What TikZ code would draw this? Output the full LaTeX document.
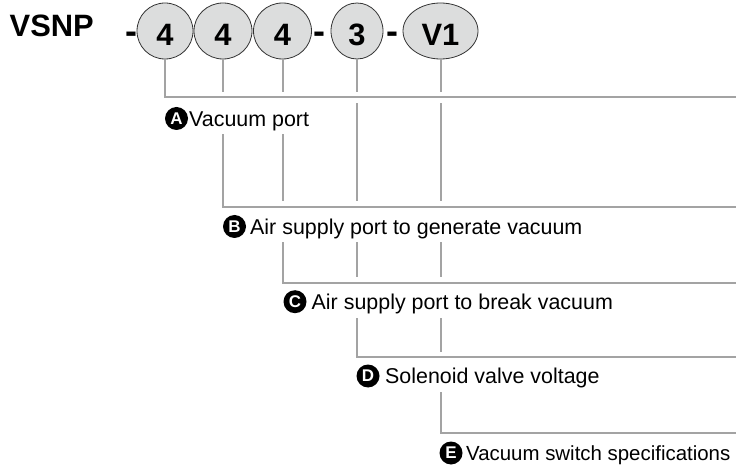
\documentclass[tikz,border=0pt]{standalone}
\usepackage{fontspec}
\setmainfont{Liberation Sans}
\usetikzlibrary{shapes.geometric}
\definecolor{lgrey}{HTML}{DCDDDD}
\definecolor{lline}{HTML}{A3A3A3}
\begin{document}
\begin{tikzpicture}[x=1bp,y=-1bp,
  code/.style={ellipse, draw=black!80, line width=0.8bp, fill=lgrey, inner sep=0pt,
    font=\fontsize{31}{31}\selectfont\bfseries, text height=28.5bp, text depth=0bp},
  conn/.style={draw=lline, line width=2bp},
  halo/.style={draw=white, line width=11bp},
  badge/.style={circle, fill=black, inner sep=0pt, minimum size=23bp, text=white,
    font=\fontsize{17}{17}\selectfont\bfseries},
  desc/.style={anchor=west, fill=white, inner xsep=1bp, inner ysep=0pt,
    text height=15.5bp, text depth=0bp, minimum height=32bp,
    font=\fontsize{21.5}{21.5}\selectfont},
  dashsym/.style={anchor=base, inner sep=0pt, font=\fontsize{36}{36}\selectfont\bfseries}
]
\useasboundingbox (0,0) rectangle (736,469);

% part number
\node[anchor=west, inner sep=0pt, font=\fontsize{31}{31}\selectfont\bfseries,
  text height=22bp, text depth=0bp] (vsnp) at (9.5,26) {VSNP};
\node[dashsym] (d1) at (131,43.5) {-};
\node[code, minimum width=56bp, minimum height=56bp] (c1) at (165,31) {4};
\node[code, minimum width=58bp, minimum height=56bp] (c2) at (223,31) {4};
\node[code, minimum width=58bp, minimum height=56bp] (c3) at (282.5,31) {4};
\node[dashsym] (d2) at (319,43.5) {-};
\node[code, minimum width=52bp, minimum height=56bp] (c4) at (357,31) {3};
\node[dashsym] (d3) at (392,43.5) {-};
\node[code, minimum width=75bp, minimum height=56bp] (c5) at (440.5,31) {V1};

% right ends of the horizontal lines
\coordinate (eA) at (737,97.5);
\coordinate (eB) at (737,207);
\coordinate (eC) at (737,283);
\coordinate (eD) at (737,357);
\coordinate (eE) at (737,433);

% connectors (drawn from right to left so the white halos cut the later crossings)
\draw[halo] ([xshift=1.5bp]c5.south |- eE) -- (eE);
\draw[conn] (c5.south) |- (eE);
\draw[halo] ([xshift=1.5bp]c4.south |- eD) -- (eD);
\draw[conn] (c4.south) |- (eD);
\draw[halo] ([xshift=1.5bp]c3.south |- eC) -- (eC);
\draw[conn] (c3.south) |- (eC);
\draw[halo] ([xshift=1.5bp]c2.south |- eB) -- (eB);
\draw[conn] (c2.south) |- (eB);
\draw[halo] ([xshift=1.5bp]c1.south |- eA) -- (eA);
\draw[conn] (c1.south) |- (eA);

% labels
\node[desc] (tA) at (188,118.5) {Vacuum port};
\node[badge] (bA) at (176.5,118.5) {A};
\node[desc] (tB) at (249,226.5) {Air supply port to generate vacuum};
\node[badge] (bB) at (234.5,226.5) {B};
\node[desc] (tC) at (310.5,301.7) {Air supply port to break vacuum};
\node[badge] (bC) at (295,301.7) {C};
\node[desc] (tD) at (384,376) {Solenoid valve voltage};
\node[badge] (bD) at (368,376) {D};
\node[desc, font=\fontsize{20.5}{20.5}\selectfont] (tE) at (465,453) {Vacuum switch specifications};
\node[badge] (bE) at (451,453) {E};
\end{tikzpicture}
\end{document}
